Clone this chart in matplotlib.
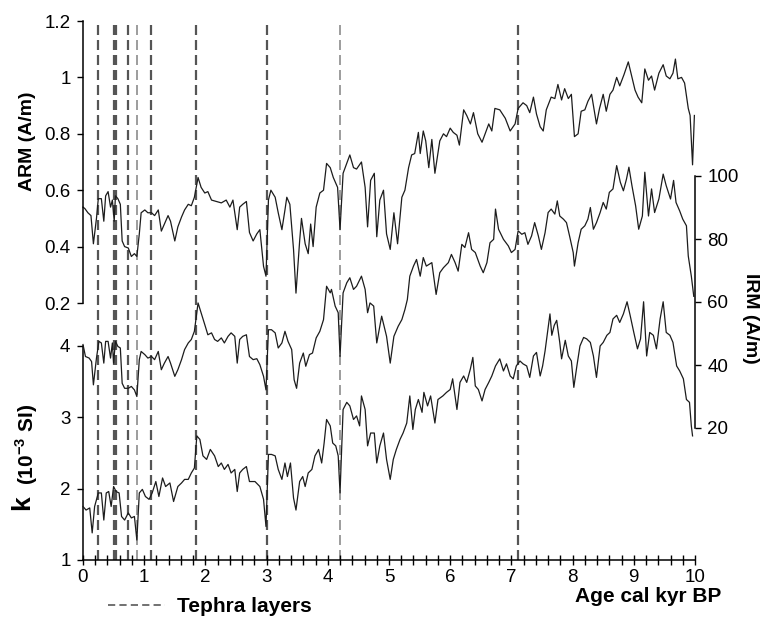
import matplotlib
matplotlib.use("Agg")
import matplotlib.pyplot as plt
from matplotlib.lines import Line2D
from matplotlib.ticker import MultipleLocator

plt.rcParams['font.family'] = ['Liberation Sans', 'DejaVu Sans']
plt.rcParams['mathtext.fontset'] = 'custom'
plt.rcParams['mathtext.rm'] = 'Liberation Sans'
plt.rcParams['mathtext.bf'] = 'Liberation Sans:bold'
plt.rcParams['lines.scale_dashes'] = False

# ---- data ----
arm_age = [0.0, 0.03, 0.08, 0.13, 0.17, 0.22, 0.25, 0.30, 0.34, 0.37, 0.41, 0.45, 0.48, 0.51, 0.53,
           0.57, 0.61, 0.64, 0.68, 0.74, 0.79, 0.84, 0.88, 0.92, 0.95, 1.01, 1.06, 1.12, 1.17, 1.23,
           1.28, 1.33, 1.39, 1.43, 1.50, 1.55, 1.61, 1.66, 1.72, 1.77, 1.82, 1.88, 1.93, 1.99, 2.04,
           2.10, 2.18, 2.26, 2.34, 2.40, 2.45, 2.52, 2.56, 2.61, 2.67, 2.72, 2.78, 2.84, 2.89, 2.95,
           2.99, 3.03, 3.07, 3.14, 3.19, 3.25, 3.30, 3.33, 3.38, 3.44, 3.48, 3.54, 3.57, 3.63, 3.68,
           3.72, 3.76, 3.81, 3.87, 3.93, 3.98, 4.04, 4.09, 4.16, 4.20, 4.25, 4.31, 4.36, 4.42, 4.47,
           4.55, 4.61, 4.65, 4.70, 4.76, 4.80, 4.85, 4.91, 4.96, 5.02, 5.08, 5.14, 5.21, 5.26, 5.32,
           5.37, 5.42, 5.48, 5.51, 5.56, 5.60, 5.65, 5.70, 5.75, 5.83, 5.89, 5.94, 6.00, 6.05, 6.11,
           6.15, 6.22, 6.27, 6.33, 6.38, 6.45, 6.52, 6.57, 6.63, 6.68, 6.73, 6.81, 6.90, 6.98, 7.06,
           7.11, 7.19, 7.25, 7.30, 7.36, 7.41, 7.47, 7.52, 7.57, 7.65, 7.71, 7.76, 7.82, 7.87, 7.93,
           7.98, 8.03, 8.09, 8.14, 8.20, 8.25, 8.31, 8.39, 8.44, 8.50, 8.55, 8.61, 8.66, 8.72, 8.77,
           8.84, 8.91, 8.96, 9.02, 9.07, 9.13, 9.18, 9.24, 9.29, 9.34, 9.41, 9.48, 9.53, 9.59, 9.64,
           9.68, 9.72, 9.78, 9.83, 9.89, 9.92, 9.96, 9.99]
arm_val = [0.54, 0.535, 0.52, 0.51, 0.41, 0.50, 0.57, 0.57, 0.49, 0.58, 0.595, 0.54, 0.565, 0.49, 0.58,
           0.57, 0.55, 0.42, 0.40, 0.395, 0.365, 0.375, 0.365, 0.445, 0.52, 0.53, 0.52, 0.52, 0.51, 0.53,
           0.455, 0.48, 0.51, 0.49, 0.42, 0.47, 0.505, 0.53, 0.55, 0.545, 0.575, 0.645, 0.61, 0.59, 0.595,
           0.565, 0.56, 0.555, 0.565, 0.54, 0.565, 0.46, 0.54, 0.55, 0.56, 0.45, 0.42, 0.445, 0.46, 0.33,
           0.295, 0.565, 0.60, 0.575, 0.52, 0.46, 0.53, 0.575, 0.55, 0.39, 0.235, 0.42, 0.50, 0.41, 0.375,
           0.48, 0.40, 0.54, 0.59, 0.60, 0.695, 0.68, 0.645, 0.61, 0.46, 0.66, 0.695, 0.725, 0.68, 0.675,
           0.70, 0.61, 0.47, 0.635, 0.66, 0.435, 0.565, 0.60, 0.445, 0.39, 0.52, 0.41, 0.575, 0.60, 0.68,
           0.725, 0.73, 0.805, 0.73, 0.81, 0.775, 0.68, 0.78, 0.66, 0.775, 0.80, 0.79, 0.82, 0.805, 0.795,
           0.76, 0.885, 0.865, 0.835, 0.875, 0.80, 0.77, 0.80, 0.835, 0.81, 0.89, 0.885, 0.855, 0.81, 0.835,
           0.89, 0.91, 0.90, 0.875, 0.93, 0.87, 0.825, 0.81, 0.885, 0.93, 0.925, 0.975, 0.92, 0.96, 0.925,
           0.94, 0.79, 0.80, 0.88, 0.885, 0.915, 0.94, 0.835, 0.89, 0.94, 0.88, 0.94, 0.955, 1.0, 0.97,
           1.01, 1.055, 1.01, 0.955, 0.93, 0.91, 1.03, 0.99, 1.005, 0.955, 1.015, 1.045, 1.005, 0.995, 1.015,
           1.065, 0.995, 1.0, 0.98, 0.89, 0.865, 0.69, 0.865]

irm_age = [0.0, 0.04, 0.10, 0.14, 0.17, 0.22, 0.26, 0.30, 0.34, 0.37, 0.41, 0.45, 0.48, 0.50, 0.53,
           0.57, 0.61, 0.64, 0.68, 0.74, 0.79, 0.84, 0.88, 0.92, 0.95, 1.01, 1.06, 1.12, 1.17, 1.23,
           1.28, 1.33, 1.39, 1.43, 1.50, 1.55, 1.61, 1.66, 1.72, 1.77, 1.82, 1.88, 1.93, 1.99, 2.04,
           2.10, 2.15, 2.20, 2.26, 2.31, 2.37, 2.42, 2.48, 2.52, 2.56, 2.61, 2.67, 2.72, 2.78, 2.84,
           2.89, 2.95, 2.99, 3.03, 3.08, 3.14, 3.19, 3.25, 3.30, 3.35, 3.41, 3.45, 3.49, 3.54, 3.60,
           3.64, 3.70, 3.75, 3.81, 3.87, 3.93, 3.98, 4.04, 4.06, 4.12, 4.17, 4.20, 4.25, 4.31, 4.36,
           4.42, 4.47, 4.55, 4.61, 4.65, 4.69, 4.75, 4.80, 4.88, 4.96, 5.02, 5.08, 5.15, 5.21, 5.26,
           5.30, 5.34, 5.40, 5.45, 5.51, 5.56, 5.61, 5.70, 5.77, 5.83, 5.89, 5.97, 6.02, 6.08, 6.13,
           6.19, 6.24, 6.30, 6.35, 6.41, 6.49, 6.54, 6.60, 6.65, 6.71, 6.74, 6.79, 6.87, 6.95, 7.00,
           7.06, 7.11, 7.17, 7.22, 7.27, 7.33, 7.38, 7.44, 7.49, 7.55, 7.60, 7.65, 7.71, 7.75, 7.79,
           7.85, 7.90, 7.95, 8.01, 8.03, 8.09, 8.14, 8.20, 8.25, 8.29, 8.34, 8.39, 8.45, 8.50, 8.55,
           8.60, 8.66, 8.72, 8.78, 8.83, 8.88, 8.92, 8.97, 9.03, 9.08, 9.14, 9.18, 9.24, 9.29, 9.34,
           9.41, 9.48, 9.53, 9.60, 9.65, 9.69, 9.75, 9.80, 9.86, 9.89, 9.94, 9.98]
irm_val = [46.5, 42.7, 42.2, 41.1, 33.7, 42.2, 47.5, 47.0, 40.6, 47.5, 47.5, 42.2, 47.0, 40.6, 47.5,
           45.9, 45.4, 34.2, 32.6, 32.6, 33.2, 32.1, 30.0, 41.7, 44.3, 43.3, 42.2, 42.7, 41.7, 44.3,
           38.5, 40.6, 42.7, 40.6, 36.4, 38.5, 41.7, 44.9, 47.0, 48.1, 50.7, 59.7, 56.6, 52.8, 49.6,
           50.2, 48.1, 47.5, 48.6, 47.0, 49.1, 50.2, 49.1, 40.6, 48.1, 49.1, 49.6, 42.7, 41.7, 42.0,
           40.1, 36.4, 32.1, 51.2, 51.2, 50.2, 45.4, 47.0, 50.7, 47.5, 44.9, 35.3, 32.6, 40.6, 43.8,
           39.6, 43.3, 43.8, 48.6, 50.7, 54.4, 65.0, 62.9, 64.0, 58.7, 56.6, 42.7, 62.9, 66.1, 67.7,
           64.0, 65.0, 68.2, 64.0, 56.6, 59.7, 58.7, 47.0, 55.5, 49.1, 40.6, 49.1, 52.3, 54.4, 57.6,
           60.8, 68.2, 71.4, 73.5, 68.2, 74.1, 71.4, 72.5, 62.4, 69.3, 70.9, 72.5, 75.1, 72.5, 69.8,
           78.3, 77.3, 82.0, 76.7, 75.7, 71.4, 69.3, 72.5, 78.8, 79.9, 89.5, 83.1, 79.9, 77.8, 75.7,
           76.7, 82.6, 81.5, 82.0, 78.3, 81.0, 85.2, 81.0, 76.7, 82.0, 88.4, 89.5, 87.9, 92.1, 87.3,
           86.3, 85.2, 81.0, 75.7, 71.4, 78.8, 83.1, 84.2, 86.3, 90.0, 83.1, 85.2, 88.4, 91.6, 89.5,
           94.8, 95.9, 103.3, 98.0, 95.3, 99.0, 102.8, 96.9, 90.5, 83.1, 87.3, 101.2, 87.3, 95.9, 88.4,
           92.7, 100.6, 96.9, 92.7, 98.6, 91.6, 88.9, 86.3, 84.2, 74.6, 68.2, 61.8]

k_age = [0.0, 0.05, 0.11, 0.15, 0.19, 0.25, 0.30, 0.34, 0.38, 0.42, 0.46, 0.50, 0.54, 0.59, 0.63,
         0.68, 0.74, 0.79, 0.84, 0.88, 0.92, 0.97, 1.02, 1.08, 1.13, 1.19, 1.24, 1.30, 1.35, 1.42,
         1.48, 1.55, 1.61, 1.66, 1.72, 1.77, 1.82, 1.86, 1.91, 1.96, 2.02, 2.08, 2.15, 2.21, 2.26,
         2.31, 2.37, 2.42, 2.48, 2.52, 2.56, 2.61, 2.67, 2.72, 2.81, 2.89, 2.95, 2.99, 3.03, 3.08,
         3.14, 3.19, 3.25, 3.30, 3.34, 3.39, 3.44, 3.48, 3.54, 3.59, 3.63, 3.68, 3.74, 3.79, 3.85,
         3.90, 3.94, 3.98, 4.04, 4.08, 4.13, 4.17, 4.20, 4.25, 4.31, 4.36, 4.42, 4.47, 4.52, 4.55,
         4.61, 4.65, 4.70, 4.76, 4.80, 4.85, 4.91, 4.96, 5.02, 5.07, 5.12, 5.18, 5.23, 5.29, 5.34,
         5.39, 5.43, 5.48, 5.54, 5.57, 5.63, 5.68, 5.75, 5.80, 5.88, 5.94, 6.00, 6.04, 6.11, 6.16,
         6.22, 6.27, 6.33, 6.37, 6.41, 6.46, 6.52, 6.57, 6.63, 6.68, 6.74, 6.81, 6.87, 6.92, 6.98,
         7.03, 7.08, 7.14, 7.19, 7.25, 7.30, 7.36, 7.41, 7.47, 7.51, 7.55, 7.59, 7.63, 7.66, 7.70,
         7.74, 7.79, 7.82, 7.88, 7.93, 7.98, 8.02, 8.07, 8.12, 8.18, 8.23, 8.29, 8.34, 8.39, 8.45,
         8.50, 8.56, 8.61, 8.66, 8.72, 8.77, 8.83, 8.89, 8.94, 9.00, 9.06, 9.11, 9.16, 9.21, 9.26,
         9.32, 9.37, 9.43, 9.48, 9.53, 9.59, 9.64, 9.70, 9.75, 9.81, 9.86, 9.91, 9.94, 9.96]
k_val = [1.75, 1.70, 1.73, 1.38, 1.75, 1.94, 1.94, 1.56, 1.94, 1.96, 1.75, 2.03, 1.96, 1.94, 1.61,
         1.56, 1.66, 1.59, 1.61, 1.28, 1.94, 1.99, 1.89, 1.85, 1.94, 2.10, 1.89, 2.15, 2.03, 2.08,
         1.82, 2.03, 2.08, 2.13, 2.13, 2.22, 2.29, 2.74, 2.69, 2.46, 2.41, 2.55, 2.46, 2.31, 2.36,
         2.27, 2.34, 2.22, 2.27, 1.96, 2.22, 2.27, 2.31, 2.10, 2.10, 2.03, 1.85, 1.47, 2.48, 2.48,
         2.46, 2.27, 2.13, 2.36, 2.17, 2.36, 1.87, 1.70, 2.10, 2.17, 2.03, 2.22, 2.27, 2.46, 2.55,
         2.36, 2.64, 2.97, 2.88, 2.64, 2.60, 2.46, 1.94, 3.11, 3.21, 3.16, 2.97, 3.02, 2.88, 3.30,
         3.11, 2.60, 2.78, 2.78, 2.36, 2.60, 2.78, 2.41, 2.13, 2.41, 2.55, 2.69, 2.78, 2.92, 3.30,
         2.83, 3.11, 3.25, 3.07, 3.35, 3.16, 3.30, 2.92, 3.25, 3.30, 3.35, 3.39, 3.54, 3.11, 3.49,
         3.58, 3.49, 3.68, 3.84, 3.44, 3.39, 3.23, 3.39, 3.49, 3.58, 3.72, 3.82, 3.65, 3.75, 3.58,
         3.54, 3.72, 3.79, 3.75, 3.72, 3.56, 3.86, 3.91, 3.58, 3.72, 3.93, 4.19, 4.45, 4.15, 4.29,
         4.36, 4.05, 3.82, 4.08, 3.86, 3.79, 3.42, 3.72, 4.00, 4.12, 4.10, 4.05, 3.86, 3.56, 4.00,
         4.05, 4.15, 4.19, 4.38, 4.43, 4.33, 4.45, 4.62, 4.43, 4.19, 3.96, 4.10, 4.62, 3.86, 4.19,
         4.15, 3.96, 4.38, 4.62, 4.19, 4.15, 4.05, 3.72, 3.65, 3.54, 3.25, 3.21, 2.88, 2.74]

tephra_ages = [0.25, 0.50, 0.54, 0.73, 1.11, 1.84, 3.0, 7.1]
tephra_faint = [0.88, 4.2]

arm_ticks = [0.2, 0.4, 0.6, 0.8, 1.0, 1.2]
arm_labels = ['0.2', '0.4', '0.6', '0.8', '1', '1.2']
irm_ticks = [20, 40, 60, 80, 100]
k_ticks = [1, 2, 3, 4]

# ---- layout (pixel geometry of the reference) ----
W, H = 762, 617
TOP, BOT = 21, 560


def fx(px):
    return px / W


def fy(py):
    return 1 - py / H


def lims(v_lo, y_lo, v_hi, y_hi):
    s = (y_lo - y_hi) / (v_hi - v_lo)
    return v_lo - (BOT - y_lo) / s, v_hi + (y_hi - TOP) / s


fig = plt.figure(figsize=(W / 100, H / 100), dpi=100)
rect = [fx(83), fy(BOT), fx(695) - fx(83), fy(TOP) - fy(BOT)]
ax_k = fig.add_axes(rect)
ax_arm = fig.add_axes(rect, sharex=ax_k)
ax_irm = fig.add_axes(rect, sharex=ax_k)
for a in (ax_arm, ax_irm):
    a.patch.set_visible(False)

line_kw = dict(color='#1c1c1c', lw=0.9, clip_on=False)
dash_pat = (0, (7.2, 3.6))
dash_kw = dict(color='#555555', lw=1.6, linestyle=dash_pat, zorder=1)
faint_kw = dict(color='#8c8c8c', lw=1.2, linestyle=dash_pat, zorder=1)

for t in tephra_ages:
    ax_k.axvline(t, **dash_kw)
for t in tephra_faint:
    ax_k.axvline(t, **faint_kw)

ax_k.plot(k_age, k_val, zorder=3, **line_kw)
ax_arm.plot(arm_age, arm_val, **line_kw)
ax_irm.plot(irm_age, irm_val, **line_kw)

ax_k.set_xlim(0, 10)
ax_k.set_ylim(*lims(1, 560, 4, 346))
ax_arm.set_ylim(*lims(0.2, 303, 1.2, 21))
ax_irm.set_ylim(*lims(20, 428, 100, 176))

# spines
for a in (ax_k, ax_arm, ax_irm):
    for s in a.spines.values():
        s.set_visible(False)
        s.set_linewidth(1.1)
ax_k.spines['bottom'].set_visible(True)
ax_k.spines['left'].set_visible(True)
ax_k.spines['left'].set_bounds(1, 4)
ax_arm.spines['left'].set_visible(True)
ax_arm.spines['left'].set_bounds(0.2, 1.2)
ax_irm.spines['right'].set_visible(True)
ax_irm.spines['right'].set_bounds(20, 100)

# ticks
ax_k.set_xticks(range(11))
ax_k.xaxis.set_minor_locator(MultipleLocator(0.2))
ax_k.tick_params(axis='x', which='both', direction='inout', length=7, width=1, labelsize=13.5, pad=3)
ax_k.set_yticks(k_ticks)
ax_k.set_yticklabels([str(v) for v in k_ticks])
ax_arm.set_yticks(arm_ticks)
ax_arm.set_yticklabels(arm_labels)
ax_irm.yaxis.tick_right()
ax_irm.set_yticks(irm_ticks)
for a in (ax_k, ax_arm, ax_irm):
    a.tick_params(axis='y', direction='out', length=4, width=1, labelsize=13.5, pad=5)
for a in (ax_arm, ax_irm):
    a.tick_params(axis='x', which='both', bottom=False, labelbottom=False)

# labels
fig.text(fx(27), fy(141), 'ARM (A/m)', rotation=90, ha='center', va='center',
         fontsize=14, fontweight='bold')
fig.text(fx(751), fy(318), 'IRM (A/m)', rotation=270, ha='center', va='center',
         fontsize=14, fontweight='bold')
fig.text(fx(22), fy(503), 'k', rotation=90, ha='center', va='center',
         fontsize=19, fontweight='bold')
fig.text(fx(27), fy(444), r'(10$^{\mathbf{-3}}$ SI)', rotation=90, ha='center', va='center',
         fontsize=15, fontweight='bold')
fig.text(fx(648), fy(596), 'Age cal kyr BP', ha='center', va='center',
         fontsize=15, fontweight='bold')

handle = Line2D([], [], color='#666666', lw=1.3, linestyle=(0, (5.2, 3.0)))
ax_k.legend([handle], ['Tephra layers'], loc='center left',
            bbox_to_anchor=(fx(108), fy(607)), bbox_transform=fig.transFigure,
            frameon=False, borderpad=0, borderaxespad=0, handlelength=2.75, handletextpad=0.55,
            prop={'weight': 'bold', 'size': 15})

fig.savefig('out.png', dpi=100)
